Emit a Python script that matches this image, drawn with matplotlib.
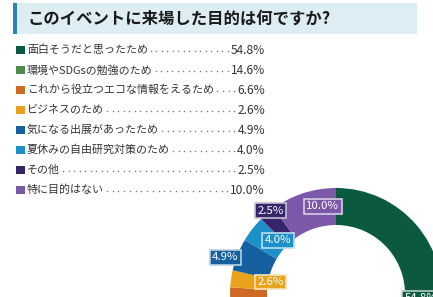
import matplotlib
matplotlib.use("Agg")
import matplotlib.pyplot as plt
from matplotlib.patches import Rectangle
import numpy as np

plt.rcParams['font.family'] = 'Noto Sans CJK JP'

title = "このイベントに来場した目的は何ですか?"
categories = ["面白そうだと思ったため", "環境やSDGsの勉強のため", "これから役立つエコな情報をえるため",
              "ビジネスのため", "気になる出展があったため", "夏休みの自由研究対策のため",
              "その他", "特に目的はない"]
values = [54.8, 14.6, 6.6, 2.6, 4.9, 4.0, 2.5, 10.0]
value_labels = ["54.8%", "14.6%", "6.6%", "2.6%", "4.9%", "4.0%", "2.5%", "10.0%"]
colors = ["#0b5a3f", "#4a8c4e", "#cf6a24", "#e9a21c", "#17609f", "#1d90c9", "#36256a", "#7b58a8"]
# label placement (layout): radius as fraction of outer radius, angle nudge in degrees
label_r = [0.80, 0.82, 0.82, 0.625, 1.10, 0.745, 1.0, 0.835]
label_nudge = [5.9, 0, 0, -2.2, 3.4, -4.9, -2.3, -9.5]

W, H = 433, 297
fig = plt.figure(figsize=(W / 100, H / 100), dpi=100)
ax = fig.add_axes([0, 0, 1, 1])
ax.set_xlim(0, W)
ax.set_ylim(H, 0)
ax.axis('off')

# title bar
ax.add_patch(Rectangle((13, 3), 404, 31, facecolor="#deedf4", edgecolor="none"))
ax.add_patch(Rectangle((13, 3), 4, 31, facecolor="#2a82ad", edgecolor="none"))
ax.text(27, 18.5, title, fontsize=11.8, fontweight='bold', color="#1a1a1a", va='center', ha='left')

# legend
fig.canvas.draw()
renderer = fig.canvas.get_renderer()
row0, step = 50, 20
for i, (cat, lab, col) in enumerate(zip(categories, value_labels, colors)):
    y = row0 + i * step
    ax.add_patch(Rectangle((16, y - 4.2), 8.5, 8.5, facecolor=col, edgecolor="none"))
    t = ax.text(27, y, cat, fontsize=7.9, color="#333333", va='center', ha='left')
    v = ax.text(265, y, lab, fontsize=8.6, color="#333333", va='center', ha='right')
    bt = t.get_window_extent(renderer)
    bv = v.get_window_extent(renderer)
    x0 = bt.x1 + 3
    x1 = bv.x0 - 3
    n = int(round((x1 - x0) / 5.6)) + 1
    if n > 1:
        xs = np.linspace(x0, x1, n)
        ax.plot(xs, [y + 1.2] * n, linestyle='none', marker='o', markersize=1.1,
                color="#7a7a7a", markeredgewidth=0)

# donut
cx, cy, R, r_in = 336, 294, 106, 69
pax = fig.add_axes([(cx - R) / W, (H - cy - R) / H, 2 * R / W, 2 * R / H])
wedges, _ = pax.pie(values, colors=colors, startangle=90, counterclock=False, radius=1,
                    wedgeprops=dict(width=(R - r_in) / R, edgecolor='none'))
pax.set_xlim(-1, 1)
pax.set_ylim(-1, 1)
pax.axis('off')


def lighten(c, f=0.6):
    rgb = np.array(matplotlib.colors.to_rgb(c))
    return tuple(rgb + (1 - rgb) * f)


for w, lab, col, lr, nd in zip(wedges, value_labels, colors, label_r, label_nudge):
    mid = np.deg2rad((w.theta1 + w.theta2) / 2 + nd)
    x, y = lr * np.cos(mid), lr * np.sin(mid)
    pax.text(x, y, lab, fontsize=8.2, color="white", ha='center', va='center', clip_on=False,
             bbox=dict(boxstyle='square,pad=0.2', facecolor=col, edgecolor=lighten(col, 0.7), linewidth=1.2))

fig.savefig("out.png", dpi=100)
